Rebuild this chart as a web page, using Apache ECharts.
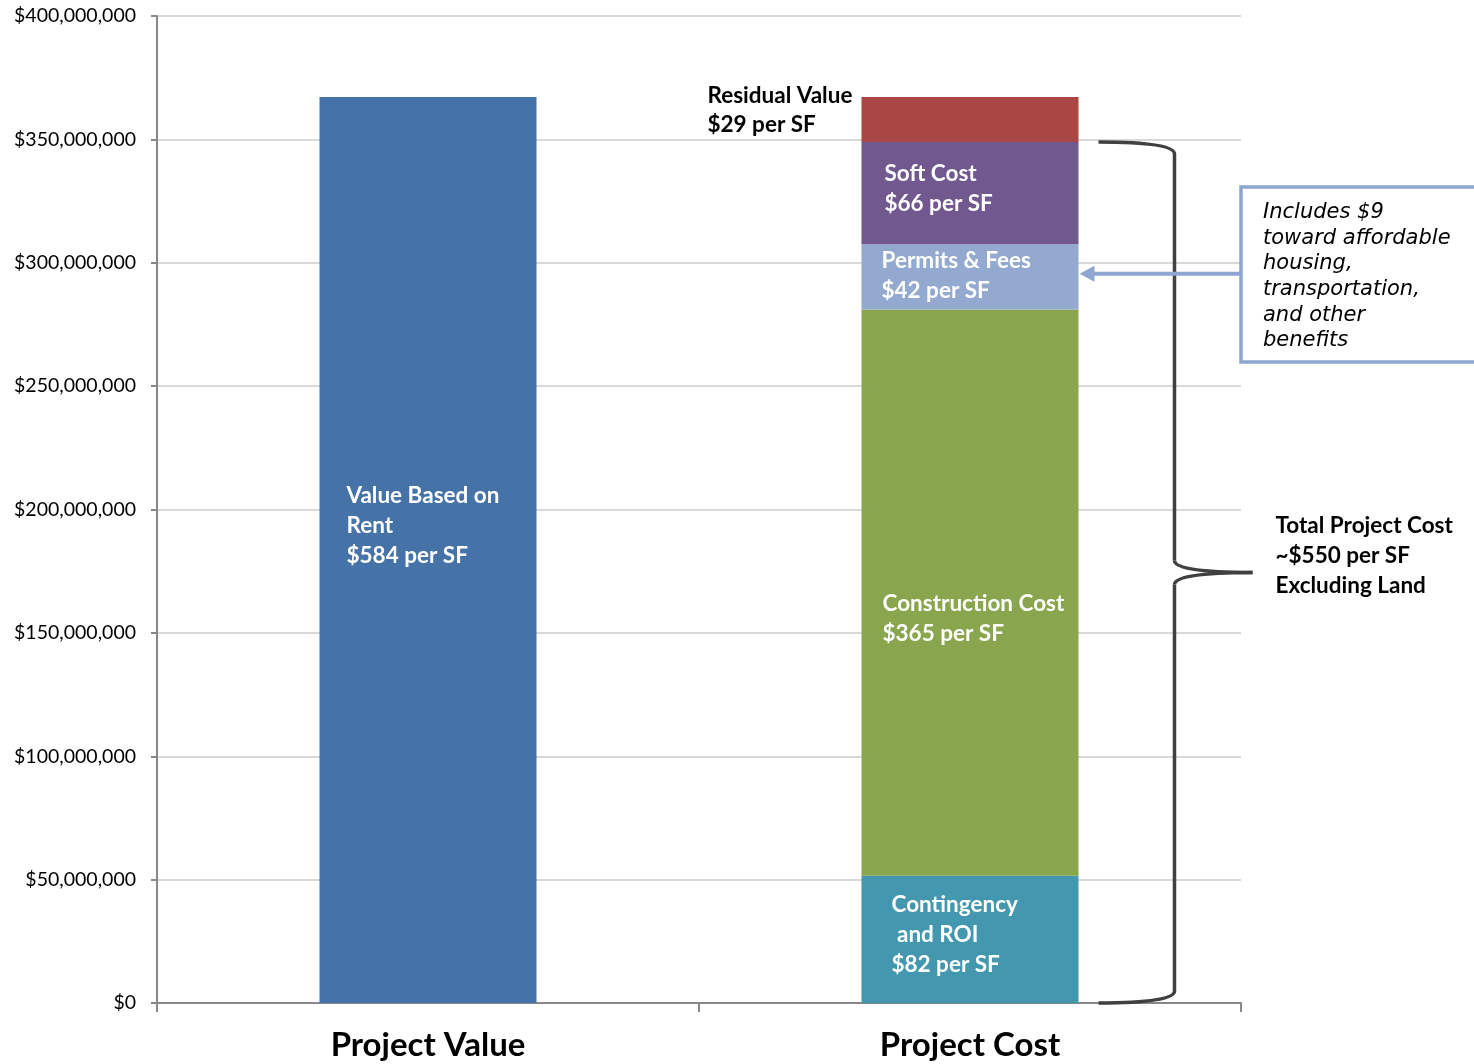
<!DOCTYPE html>
<html>
<head>
<meta charset="utf-8">
<script src="https://cdn.jsdelivr.net/npm/echarts@6/dist/echarts.min.js"></script>
<style>
  html, body { margin: 0; padding: 0; background: #fff; }
  #chart { width: 1474px; height: 1064px; }
</style>
</head>
<body>
<div id="chart"></div>
<script>
// Rentable area used to turn per-square-foot figures into project dollars
const areaSF = 628800;

const categories = ['Project Value', 'Project Cost'];

// Value side
const valuePerSF = 584;
const valueLabel = 'Value Based on\nRent\n$584 per SF';

// Cost side, stacked bottom to top
const costNames = ['Contingency and ROI', 'Construction Cost', 'Permits & Fees', 'Soft Cost', 'Residual Value'];
const costPerSF = [82, 365, 42, 66, 29];
const costLabels = [
  'Contingency\n and ROI\n$82 per SF',
  'Construction Cost\n$365 per SF',
  'Permits & Fees\n$42 per SF',
  'Soft Cost\n$66 per SF',
  'Residual Value\n$29 per SF'
];
const costColors = ['#4398B0', '#89A54E', '#93A9CF', '#71588F', '#AA4643'];

const yTicks = { min: 0, max: 400000000, interval: 50000000 };

const calloutText = 'Includes $9\ntoward affordable\nhousing,\ntransportation,\nand other\nbenefits';
const totalText = 'Total Project Cost\n~$550 per SF\nExcluding Land';

const FONT = 'Lato, "Open Sans", sans-serif';
const LABEL_SIZE = 22.5;
const BAR_W = 217;

// label placement inside / beside each cost segment (offset from segment top-left)
const costLabelPos = [[30, 14], [21, 279], [20, 1], [23, 17], [-154, -16]];

const chart = echarts.init(document.getElementById('chart'), null, { renderer: 'canvas' });

function money(v) {
  return '$' + v.toString().replace(/\B(?=(\d{3})+(?!\d))/g, ',');
}

const series = [{
  name: 'Project Value',
  type: 'bar',
  stack: 'all',
  barWidth: BAR_W,
  data: [valuePerSF * areaSF, '-'],
  itemStyle: { color: '#4572A7' },
  label: {
    show: true,
    position: [27, 384],
    align: 'left',
    verticalAlign: 'top',
    formatter: valueLabel,
    color: '#fff',
    fontFamily: FONT,
    fontWeight: 'bold',
    fontSize: LABEL_SIZE,
    lineHeight: 30
  }
}];

costNames.forEach((name, i) => {
  const isOutside = i === costNames.length - 1;
  series.push({
    name: name,
    type: 'bar',
    stack: 'all',
    barWidth: BAR_W,
    data: ['-', costPerSF[i] * areaSF],
    itemStyle: { color: costColors[i] },
    label: {
      show: true,
      position: costLabelPos[i],
      align: 'left',
      verticalAlign: 'top',
      formatter: costLabels[i],
      color: isOutside ? '#000' : '#fff',
      fontFamily: FONT,
      fontWeight: 'bold',
      fontSize: LABEL_SIZE,
      lineHeight: isOutside ? 29 : 30
    }
  });
});

chart.setOption({
  animation: false,
  grid: { left: 157, right: 233, top: 16, bottom: 61, containLabel: false },
  xAxis: {
    type: 'category',
    data: categories,
    boundaryGap: true,
    axisLine: { lineStyle: { color: '#888', width: 2 } },
    axisTick: { show: true, alignWithLabel: false, length: 9, lineStyle: { color: '#888', width: 2 } },
    axisLabel: {
      color: '#000',
      fontFamily: FONT,
      fontWeight: 'bold',
      fontSize: 33,
      margin: 26
    }
  },
  yAxis: {
    type: 'value',
    min: yTicks.min,
    max: yTicks.max,
    interval: yTicks.interval,
    axisLine: { show: true, lineStyle: { color: '#888', width: 2 } },
    axisTick: { show: true, length: 6, lineStyle: { color: '#888', width: 2 } },
    splitLine: { lineStyle: { color: '#D9D9D9', width: 2 } },
    axisLabel: {
      color: '#000',
      fontFamily: FONT,
      fontSize: 19.5,
      margin: 21,
      formatter: money
    }
  },
  series: series
});

// Brace, callout box and arrow placed from the cost bar's own scale
function drawAnnotations() {
  const px = (cat, v) => chart.convertToPixel({ gridIndex: 0 }, [cat, v]);
  const cum = [];
  let s = 0;
  costPerSF.forEach(c => { s += c * areaSF; cum.push(s); });

  const [cx, y0] = px(1, 0);
  const barRight = cx + BAR_W / 2;
  const yTop = px(1, cum[3])[1];                 // top of Soft Cost
  const permitsMid = px(1, (cum[1] + cum[2]) / 2)[1];

  const bx0 = barRight + 20;      // brace start / end x
  const bx1 = barRight + 96;      // brace spine x
  const tipX = barRight + 174;    // brace point x
  const midY = (yTop + y0) / 2;
  const r = 12;
  const braceStyle = { stroke: '#404040', lineWidth: 3.5, fill: 'none' };

  const braceParts = [
    { type: 'bezierCurve', shape: { x1: bx0, y1: yTop, cpx1: bx1, cpy1: yTop, x2: bx1, y2: yTop + r } },
    { type: 'line', shape: { x1: bx1, y1: yTop + r, x2: bx1, y2: midY - r } },
    { type: 'bezierCurve', shape: { x1: bx1, y1: midY - r, cpx1: bx1, cpy1: midY, x2: tipX, y2: midY } },
    { type: 'bezierCurve', shape: { x1: tipX, y1: midY, cpx1: bx1, cpy1: midY, x2: bx1, y2: midY + r } },
    { type: 'line', shape: { x1: bx1, y1: midY + r, x2: bx1, y2: y0 - r } },
    { type: 'bezierCurve', shape: { x1: bx1, y1: y0 - r, cpx1: bx1, cpy1: y0, x2: bx0, y2: y0 } }
  ].map(p => Object.assign(p, { style: braceStyle, z: 10 }));

  const boxX = 1241, boxY = 187, boxW = 250, boxH = 175;
  const arrowColor = '#8EA6D0';

  chart.setOption({
    graphic: braceParts.concat([
      {
        type: 'text',
        left: tipX + 23,
        top: midY - 62,
        style: {
          text: totalText,
          fill: '#000',
          font: 'bold ' + LABEL_SIZE + 'px ' + FONT,
          lineHeight: 30
        },
        z: 10
      },
      {
        type: 'rect',
        shape: { x: boxX, y: boxY, width: boxW, height: boxH },
        style: { fill: '#fff', stroke: arrowColor, lineWidth: 3.5 },
        z: 10
      },
      {
        type: 'text',
        left: boxX + 22,
        top: boxY + 13,
        style: {
          text: calloutText,
          fill: '#000',
          font: 'italic 21px "DejaVu Sans", sans-serif',
          lineHeight: 25.6
        },
        z: 11
      },
      {
        type: 'line',
        shape: { x1: boxX, y1: permitsMid - 3, x2: barRight + 12, y2: permitsMid - 3 },
        style: { stroke: arrowColor, lineWidth: 4 },
        z: 10
      },
      {
        type: 'polygon',
        shape: { points: [[barRight + 1, permitsMid - 3], [barRight + 16, permitsMid - 11], [barRight + 16, permitsMid + 5]] },
        style: { fill: arrowColor },
        z: 10
      }
    ])
  });
}
drawAnnotations();
</script>
</body>
</html>
